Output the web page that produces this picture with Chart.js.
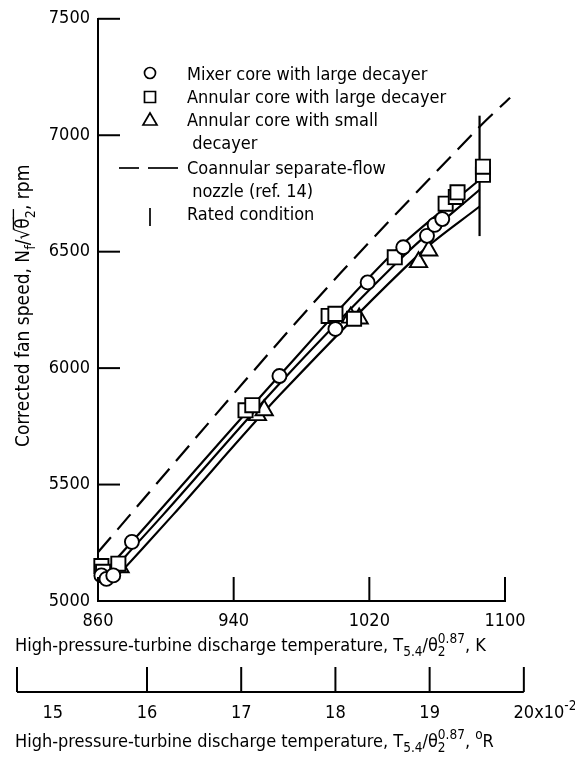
<!DOCTYPE html>
<html>
<head>
<meta charset="utf-8">
<script src="https://cdn.jsdelivr.net/npm/chart.js@4.4.0/dist/chart.umd.min.js"></script>
<style>
    html, body { margin: 0; padding: 0; background: #fff; }
    #wrap { width: 575px; height: 761px; }
</style>
</head>
<body>
<div id="wrap"><canvas id="fanSpeedChart" width="575" height="761"></canvas></div>
<script>
// Values: temperature in K, corrected fan speed in rpm
const mixerTemp  = [862, 865, 869, 880, 967, 1000, 1019, 1040, 1054, 1058.5, 1063];
const mixerSpeed = [5110, 5095, 5110, 5254, 5966, 6168, 6368, 6519, 6568, 6615, 6640];

const annularLargeTemp  = [862, 863, 872, 947, 951, 996, 1000, 1011, 1035, 1065, 1071, 1072, 1087, 1087];
const annularLargeSpeed = [5150, 5125, 5160, 5819, 5841, 6224, 6233, 6212, 6476, 6706, 6735, 6755, 6830, 6865];

const annularSmallTemp  = [873, 954, 958, 1009, 1014, 1049, 1055];
const annularSmallSpeed = [5145, 5798, 5819, 6217, 6213, 6455, 6505];

// faired curves through the data
const curve1Temp  = [862, 880, 967, 1034, 1085];
const curve1Speed = [5110, 5254, 5968, 6494, 6809];
const curve2Temp  = [864, 898.6, 967, 1042, 1085];
const curve2Speed = [5095, 5372, 5933, 6494, 6766];
const curve3Temp  = [868, 904.5, 967, 1050, 1085];
const curve3Speed = [5080, 5372, 5883, 6494, 6694];

// coannular separate-flow nozzle (ref. 14)
const nozzleTemp  = [860, 946, 1003, 1085, 1103];
const nozzleSpeed = [5209, 5940, 6408, 7036, 7161];

// rated condition
const ratedTemp  = [1085, 1085];
const ratedSpeed = [6567, 7084];

const xTicks = [860, 940, 1020, 1100];
const yTicks = [5000, 5500, 6000, 6500, 7000, 7500];
const rankineLabels = [15, 16, 17, 18, 19, 20];      // x10^-2, deg R
const rankineMarks = [16, 17, 18, 19, 20];
const rankineAxisStart = 14.62;

const FONT = '"DejaVu Sans Condensed", "Liberation Sans Narrow", "Roboto Condensed", "DejaVu Sans", sans-serif';
const font = (size, style) => `${style || ""} ${size}px ${FONT}`;

function toPoints(xs, ys) {
    return xs.map((x, i) => ({ x: x, y: ys[i] }));
}

function markerSet(label, xs, ys, style, radius) {
    return {
        label: label,
        data: toPoints(xs, ys),
        showLine: false,
        pointStyle: style,
        pointRadius: radius,
        pointBorderWidth: 1.9,
        pointBorderColor: "#000",
        pointBackgroundColor: "#fff",
        clip: false,
    };
}

function lineSet(label, xs, ys, dash) {
    return {
        label: label,
        data: toPoints(xs, ys),
        showLine: true,
        borderColor: "#000",
        borderWidth: 2.2,
        borderDash: dash || [],
        pointRadius: 0,
        tension: 0.3,
        clip: false,
    };
}

// draws text with sub/superscripts, returns width
function drawRich(ctx, parts, x, y, size) {
    let cx = x;
    parts.forEach((p) => {
        let w = 0;
        if (p.t !== undefined) {
            ctx.font = font(size);
            w = ctx.measureText(p.t).width;
            ctx.fillText(p.t, cx, y);
        } else {
            ctx.font = font(size * 0.75);
            if (p.sub) {
                w = Math.max(w, ctx.measureText(p.sub).width);
                ctx.fillText(p.sub, cx, y + size * 0.3);
            }
            if (p.sup) {
                w = Math.max(w, ctx.measureText(p.sup).width);
                ctx.fillText(p.sup, cx, y - size * 0.45);
            }
        }
        if (p.over) {
            ctx.beginPath();
            ctx.moveTo(cx - 1, y - size * 0.82);
            ctx.lineTo(cx + w + 1, y - size * 0.82);
            ctx.stroke();
        }
        cx += w;
    });
    return cx - x;
}

function strokeLine(ctx, x1, y1, x2, y2) {
    ctx.beginPath();
    ctx.moveTo(x1, y1);
    ctx.lineTo(x2, y2);
    ctx.stroke();
}

const titleK = [
    { t: "High-pressure-turbine discharge temperature, T" }, { sub: "5.4" },
    { t: "/θ" }, { sub: "2", sup: "0.87" }, { t: ", K" },
];
const titleR = [
    { t: "High-pressure-turbine discharge temperature, T" }, { sub: "5.4" },
    { t: "/θ" }, { sub: "2", sup: "0.87" }, { t: ", " }, { sup: "o" }, { t: "R" },
];
const titleY = [
    { t: "Corrected fan speed, N" }, { sub: "f" }, { t: "/√" },
    { t: "θ", over: true }, { sub: "2", over: true }, { t: ", rpm" },
];

const legendRows = [
    { symbol: "circle", y: 73, lines: ["Mixer core with large decayer"], base: 80 },
    { symbol: "rect", y: 97, lines: ["Annular core with large decayer"], base: 103 },
    { symbol: "triangle", y: 120, lines: ["Annular core with small", " decayer"], base: 126 },
    { symbol: "dash", y: 168, lines: ["Coannular separate-flow", " nozzle (ref. 14)"], base: 174 },
    { symbol: "bar", y: 218, lines: ["Rated condition"], base: 220 },
];

function drawSymbol(ctx, kind, x, y) {
    ctx.beginPath();
    if (kind === "circle") {
        ctx.arc(x, y, 5.5, 0, Math.PI * 2);
        ctx.stroke();
    } else if (kind === "rect") {
        ctx.rect(x - 5.5, y - 5.5, 11, 11);
        ctx.stroke();
    } else if (kind === "triangle") {
        ctx.moveTo(x, y - 7);
        ctx.lineTo(x + 7, y + 5);
        ctx.lineTo(x - 7, y + 5);
        ctx.closePath();
        ctx.stroke();
    } else if (kind === "dash") {
        strokeLine(ctx, 119, y, 139, y);
        strokeLine(ctx, 148, y, 178, y);
    } else if (kind === "bar") {
        strokeLine(ctx, x, y - 10, x, y + 8);
    }
}

const paperAxes = {
    id: "paperAxes",
    afterDraw(chart) {
        const ctx = chart.ctx;
        const xs = chart.scales.x;
        const ys = chart.scales.y;
        const area = chart.chartArea;
        ctx.save();
        ctx.strokeStyle = "#000";
        ctx.fillStyle = "#000";
        ctx.lineWidth = 2;

        // inward tick marks
        yTicks.forEach((v) => {
            const py = ys.getPixelForValue(v);
            strokeLine(ctx, area.left, py, area.left + 22, py);
        });
        xTicks.forEach((v) => {
            const px = xs.getPixelForValue(v);
            strokeLine(ctx, px, area.bottom, px, area.bottom - 24);
        });

        // K axis title
        ctx.textBaseline = "alphabetic";
        ctx.textAlign = "left";
        ctx.lineWidth = 1.3;
        drawRich(ctx, titleK, 15, 651, 18);

        // second axis in deg R (x10^-2)
        const rPx = (r) => xs.getPixelForValue(r * 100 / 1.8);
        const axisY = 692;
        ctx.lineWidth = 2;
        strokeLine(ctx, rPx(rankineAxisStart), axisY, rPx(20), axisY);
        strokeLine(ctx, rPx(rankineAxisStart), axisY, rPx(rankineAxisStart), axisY - 25);
        rankineMarks.forEach((r) => {
            strokeLine(ctx, rPx(r), axisY, rPx(r), axisY - 25);
        });
        rankineLabels.forEach((r, i) => {
            const px = rPx(r);
            ctx.font = font(18);
            const w = ctx.measureText(String(r)).width;
            if (i === rankineLabels.length - 1) {
                drawRich(ctx, [{ t: "20x10" }, { sup: "-2" }], px - w / 2, 718, 18);
            } else {
                ctx.fillText(String(r), px - w / 2, 718);
            }
        });
        ctx.lineWidth = 1.3;
        drawRich(ctx, titleR, 15, 747, 18);

        // y axis title
        ctx.save();
        ctx.translate(29, 447);
        ctx.rotate(-Math.PI / 2);
        drawRich(ctx, titleY, 0, 0, 19);
        ctx.restore();

        // legend
        ctx.lineWidth = 1.7;
        legendRows.forEach((row) => {
            drawSymbol(ctx, row.symbol, 150, row.y);
            ctx.font = font(18);
            row.lines.forEach((txt, k) => {
                ctx.fillText(txt, 187, row.base + k * 23);
            });
        });
        ctx.restore();
    },
};

const datasets = [
    markerSet("Mixer core with large decayer", mixerTemp, mixerSpeed, "circle", 7),
    markerSet("Annular core with large decayer", annularLargeTemp, annularLargeSpeed, "rect", 10),
    markerSet("Annular core with small decayer", annularSmallTemp, annularSmallSpeed, "triangle", 10),
    lineSet("curve 1", curve1Temp, curve1Speed),
    lineSet("curve 2", curve2Temp, curve2Speed),
    lineSet("curve 3", curve3Temp, curve3Speed),
    lineSet("Coannular separate-flow nozzle (ref. 14)", nozzleTemp, nozzleSpeed, [20, 10]),
    lineSet("Rated condition", ratedTemp, ratedSpeed),
];
datasets[datasets.length - 1].tension = 0;

const ctx = document.getElementById("fanSpeedChart").getContext("2d");
new Chart(ctx, {
    type: "scatter",
    data: { datasets: datasets },
    options: {
        responsive: false,
        animation: false,
        devicePixelRatio: 1,
        layout: { padding: { top: 14, right: 70, bottom: 0, left: 0 } },
        plugins: {
            legend: { display: false },
            tooltip: { enabled: false },
        },
        scales: {
            x: {
                type: "linear",
                min: 860,
                max: 1100,
                afterBuildTicks: (s) => { s.ticks = xTicks.map((v) => ({ value: v })); },
                afterFit: (s) => { s.height = 160; },
                grid: { drawOnChartArea: false, drawTicks: false },
                border: { color: "#000", width: 2 },
                ticks: {
                    padding: 10,
                    color: "#000",
                    maxRotation: 0,
                    font: { family: FONT, size: 18 },
                    callback: (v) => String(v),
                },
            },
            y: {
                type: "linear",
                min: 5000,
                max: 7500,
                afterBuildTicks: (s) => { s.ticks = yTicks.map((v) => ({ value: v })); },
                afterFit: (s) => { s.width = 98; },
                grid: { drawOnChartArea: false, drawTicks: false },
                border: { color: "#000", width: 2 },
                ticks: {
                    padding: 8,
                    color: "#000",
                    font: { family: FONT, size: 18 },
                    callback: (v) => String(v),
                },
            },
        },
    },
    plugins: [paperAxes],
});
</script>
</body>
</html>
